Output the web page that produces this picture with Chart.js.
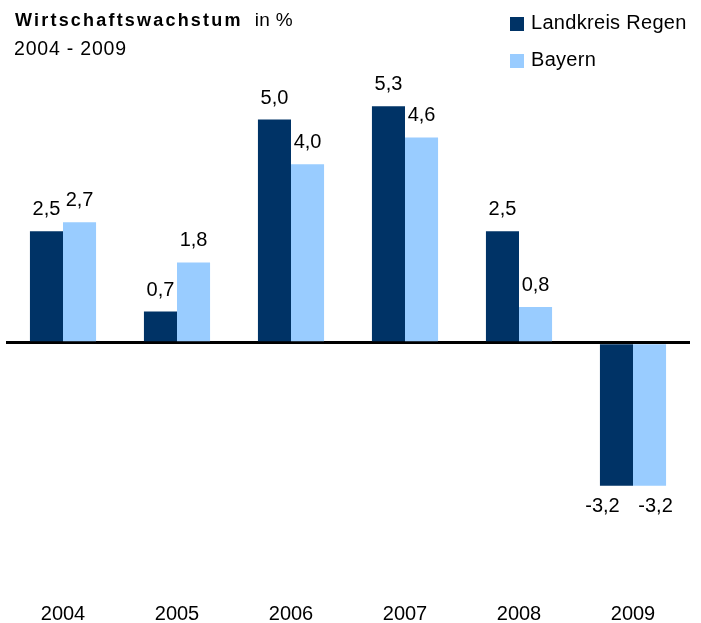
<!DOCTYPE html>
<html lang="de">
<head>
    <meta charset="UTF-8">
    <title>Wirtschaftswachstum in % 2004 - 2009</title>
    <script src="https://cdn.jsdelivr.net/npm/chart.js@4"></script>
    <style>
        html, body { margin: 0; padding: 0; background: #fff; }
        .chart-box { position: relative; width: 701px; height: 623px; }
    </style>
</head>
<body>

<div class="chart-box">
    <canvas id="growthChart" width="701" height="623"></canvas>
</div>

<script>
    // Daten
    const years = ['2004', '2005', '2006', '2007', '2008', '2009'];
    const regenValues = [2.5, 0.7, 5.0, 5.3, 2.5, -3.2];
    const bayernValues = [2.7, 1.8, 4.0, 4.6, 0.8, -3.2];
    const seriesNames = ['Landkreis Regen', 'Bayern'];
    const seriesColors = ['#003366', '#99CCFF'];
    const titleBold = 'Wirtschaftswachstum';
    const titleUnit = 'in %';
    const subtitle = '2004 - 2009';

    const FONT = '"Liberation Sans", Arial, sans-serif';

    // Titel, Legende und Werte direkt auf die Zeichenfläche
    const textPlugin = {
        id: 'textPlugin',
        afterDatasetsDraw(chart) {
            const ctx = chart.ctx;
            ctx.save();
            ctx.font = '20px ' + FONT;
            ctx.fillStyle = '#000';
            ctx.textAlign = 'center';
            chart.data.datasets.forEach((ds, di) => {
                const meta = chart.getDatasetMeta(di);
                meta.data.forEach((bar, i) => {
                    const v = ds.data[i];
                    const txt = v.toFixed(1).replace('.', ',');
                    if (v >= 0) {
                        ctx.fillText(txt, bar.x, bar.y - 16);
                    } else {
                        ctx.fillText(txt, bar.x + (di === 0 ? -14 : 6), bar.y + 26);
                    }
                });
            });
            ctx.restore();
        },
        afterDraw(chart) {
            const ctx = chart.ctx;
            ctx.save();
            ctx.fillStyle = '#000';
            ctx.textAlign = 'left';

            // Titel
            ctx.font = 'bold 18px ' + FONT;
            ctx.letterSpacing = '2.2px';
            ctx.fillText(titleBold, 15, 26);
            const w = ctx.measureText(titleBold).width;
            ctx.font = '19px ' + FONT;
            ctx.letterSpacing = '0.3px';
            ctx.fillText(titleUnit, 15 + w + 12, 26);

            ctx.font = '19.5px ' + FONT;
            ctx.letterSpacing = '0.8px';
            ctx.fillText(subtitle, 14, 55);

            // Legende
            ctx.font = '20px ' + FONT;
            ctx.letterSpacing = '0.3px';
            chart.data.datasets.forEach((ds, di) => {
                const top = 17 + di * 37;
                ctx.fillStyle = ds.backgroundColor;
                ctx.fillRect(510, top, 14, 14);
                ctx.fillStyle = '#000';
                ctx.fillText(ds.label, 531, top + 12);
            });
            ctx.restore();
        }
    };

    const ctx = document.getElementById('growthChart').getContext('2d');
    const growthChart = new Chart(ctx, {
        type: 'bar',
        data: {
            labels: years,
            datasets: [{
                label: seriesNames[0],
                data: regenValues,
                backgroundColor: seriesColors[0],
                borderWidth: 0,
                categoryPercentage: 0.58,
                barPercentage: 1.0
            }, {
                label: seriesNames[1],
                data: bayernValues,
                backgroundColor: seriesColors[1],
                borderWidth: 0,
                categoryPercentage: 0.58,
                barPercentage: 1.0
            }]
        },
        options: {
            responsive: false,
            animation: false,
            layout: { padding: { top: 8, left: 6, right: 11, bottom: -39 } },
            plugins: {
                legend: { display: false },
                tooltip: { enabled: false }
            },
            scales: {
                x: {
                    grid: { display: false, drawTicks: false },
                    border: { display: false },
                    ticks: {
                        padding: 36,
                        color: '#000',
                        font: { family: FONT, size: 20 }
                    }
                },
                y: {
                    min: -5,
                    max: 7.5,
                    z: 1,
                    border: { display: false },
                    ticks: { display: false, stepSize: 2.5 },
                    grid: {
                        drawTicks: false,
                        color: c => c.tick && c.tick.value === 0 ? '#000' : 'rgba(0,0,0,0)',
                        lineWidth: c => c.tick && c.tick.value === 0 ? 3 : 0
                    }
                }
            }
        },
        plugins: [textPlugin]
    });
</script>

</body>
</html>
